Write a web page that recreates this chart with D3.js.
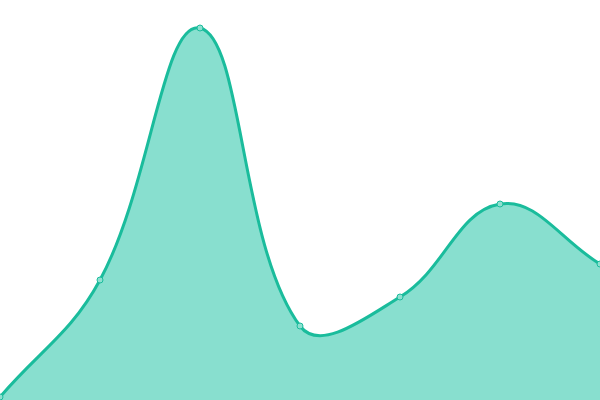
<!DOCTYPE html>
<html>
<head>
<meta charset="utf-8">
<script src="https://cdn.jsdelivr.net/npm/d3@7"></script>
<style>
  body { margin: 0; background: #fff; }
  svg { display: block; }
</style>
</head>
<body>
<div id="chart"></div>
<script>
var categories = ["A", "B", "C", "D", "E", "F", "G"];
var values = [3, 120, 372, 74, 103, 196, 136];

var width = 600, height = 400;
var tension = 0.4;

// spline curve: control points scaled by neighbouring segment lengths
function SplineCurve(context) { this._context = context; }
SplineCurve.prototype = {
    areaStart: function () { this._line = 0; },
    areaEnd: function () { this._line = NaN; },
    lineStart: function () { this._x = []; this._y = []; },
    point: function (x, y) { this._x.push(+x); this._y.push(+y); },
    lineEnd: function () {
        var x = this._x, y = this._y, n = x.length, ctx = this._context;
        if (n) {
            this._line ? ctx.lineTo(x[0], y[0]) : ctx.moveTo(x[0], y[0]);
            if (n === 2) {
                ctx.lineTo(x[1], y[1]);
            } else if (n > 2) {
                var cps = [];
                for (var i = 0; i < n; i++) {
                    var p = i > 0 ? i - 1 : i, nx = i < n - 1 ? i + 1 : i;
                    var d01 = Math.hypot(x[i] - x[p], y[i] - y[p]);
                    var d12 = Math.hypot(x[nx] - x[i], y[nx] - y[i]);
                    var s01 = d01 / (d01 + d12), s12 = d12 / (d01 + d12);
                    if (isNaN(s01)) s01 = 0;
                    if (isNaN(s12)) s12 = 0;
                    var fa = tension * s01, fb = tension * s12;
                    var cp = {
                        px: x[i] - fa * (x[nx] - x[p]),
                        py: y[i] - fa * (y[nx] - y[p]),
                        nx: x[i] + fb * (x[nx] - x[p]),
                        ny: y[i] + fb * (y[nx] - y[p])
                    };
                    cp.py = Math.max(0, Math.min(height, cp.py));
                    cp.ny = Math.max(0, Math.min(height, cp.ny));
                    cps.push(cp);
                }
                for (var j = 1; j < n; j++) {
                    ctx.bezierCurveTo(cps[j - 1].nx, cps[j - 1].ny, cps[j].px, cps[j].py, x[j], y[j]);
                }
            }
        }
        if (this._line || (this._line !== 0 && n === 1)) ctx.closePath();
        this._line = 1 - this._line;
        this._x = this._y = null;
    }
};
function curveSpline(context) { return new SplineCurve(context); }

var svg = d3.select("#chart")
    .append("svg")
    .attr("width", width)
    .attr("height", height);

var x = d3.scalePoint()
    .domain(categories)
    .range([0, width]);

var y = d3.scaleLinear()
    .domain([0, 400])
    .range([height, 0]);

var data = categories.map(function (c, i) { return { cat: c, val: values[i] }; });

var area = d3.area()
    .x(function (d) { return x(d.cat); })
    .y0(height)
    .y1(function (d) { return y(d.val); })
    .curve(curveSpline);

var line = d3.line()
    .x(function (d) { return x(d.cat); })
    .y(function (d) { return y(d.val); })
    .curve(curveSpline);

svg.append("path")
    .datum(data)
    .attr("fill", "#88dfcf")
    .attr("d", area);

svg.append("path")
    .datum(data)
    .attr("fill", "none")
    .attr("stroke", "#1abc9c")
    .attr("stroke-width", 3)
    .attr("d", line);

svg.selectAll("circle")
    .data(data)
    .enter()
    .append("circle")
    .attr("cx", function (d) { return x(d.cat); })
    .attr("cy", function (d) { return y(d.val); })
    .attr("r", 3)
    .attr("fill", "#8de0d0")
    .attr("stroke", "#1abc9c")
    .attr("stroke-width", 1);
</script>
</body>
</html>
